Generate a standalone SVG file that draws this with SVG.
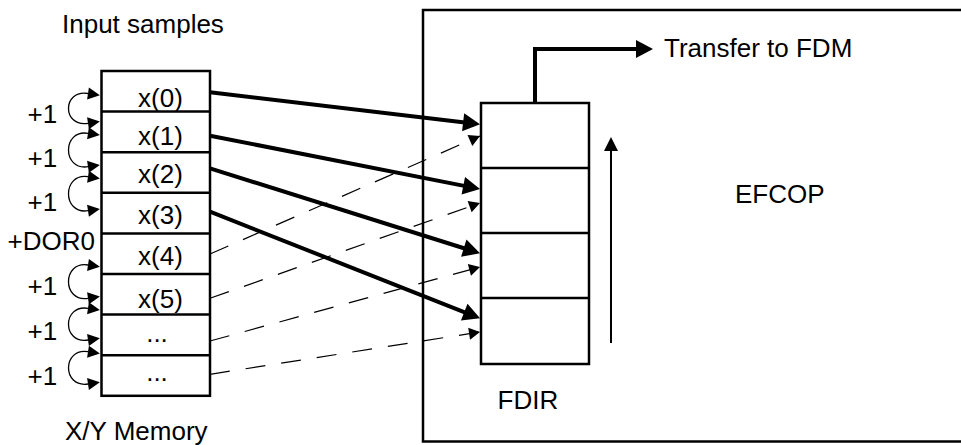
<svg xmlns="http://www.w3.org/2000/svg" width="961" height="445" viewBox="0 0 961 445">
<style>
text{font-family:"Liberation Sans",Arial,sans-serif;font-size:26px;fill:#000}
.mid{text-anchor:middle}
.box{fill:#fff;stroke:#000;stroke-width:2.5}
.div{stroke:#000;stroke-width:2.5}
.thick{fill:none;stroke:#000;stroke-width:4;marker-end:url(#big)}
.dash{fill:none;stroke:#000;stroke-width:1.2;stroke-dasharray:20 16;marker-end:url(#small)}
.curve{fill:none;stroke:#000;stroke-width:1.3;marker-start:url(#cur);marker-end:url(#cur)}
</style>
<defs>
<marker id="big" markerUnits="userSpaceOnUse" markerWidth="18" markerHeight="18" refX="6" refY="9" orient="auto" overflow="visible"><path d="M0,0 L17,9 L0,18 z" fill="#000"/></marker>
<marker id="small" markerUnits="userSpaceOnUse" markerWidth="12" markerHeight="12" refX="11" refY="6" orient="auto" overflow="visible"><path d="M0,0 L11,6 L0,12 z" fill="#000"/></marker>
<marker id="up" markerUnits="userSpaceOnUse" markerWidth="15" markerHeight="15" refX="4" refY="7" orient="auto" overflow="visible"><path d="M0,0 L14,7 L0,14 z" fill="#000"/></marker>
<marker id="cur" markerUnits="userSpaceOnUse" markerWidth="13" markerHeight="13" refX="0" refY="6" orient="auto-start-reverse" overflow="visible"><path d="M0,0 L12,6 L0,12 z" fill="#000"/></marker>
</defs>

<g id="efcop">
<rect class="box" x="423" y="10" width="545" height="431.5"/>
<text x="735" y="202.7">EFCOP</text>
</g>

<g id="memory">
<rect class="box" x="101.5" y="71" width="108.5" height="324.8"/>
<line class="div" x1="101.5" y1="111.6" x2="210" y2="111.6"/>
<line class="div" x1="101.5" y1="152.2" x2="210" y2="152.2"/>
<line class="div" x1="101.5" y1="192.8" x2="210" y2="192.8"/>
<line class="div" x1="101.5" y1="233.4" x2="210" y2="233.4"/>
<line class="div" x1="101.5" y1="274" x2="210" y2="274"/>
<line class="div" x1="101.5" y1="314.6" x2="210" y2="314.6"/>
<line class="div" x1="101.5" y1="355.2" x2="210" y2="355.2"/>
<text class="mid" x="160.5" y="107">x(0)</text>
<text class="mid" x="160.5" y="145">x(1)</text>
<text class="mid" x="160.5" y="183">x(2)</text>
<text class="mid" x="160.5" y="223.5">x(3)</text>
<text class="mid" x="160.5" y="265">x(4)</text>
<text class="mid" x="160.5" y="308">x(5)</text>
<text class="mid" x="157" y="342">...</text>
<text class="mid" x="157" y="381">...</text>
</g>

<g id="fdir">
<rect class="box" x="481" y="103" width="108" height="261"/>
<line class="div" x1="481" y1="168" x2="589" y2="168"/>
<line class="div" x1="481" y1="233" x2="589" y2="233"/>
<line class="div" x1="481" y1="298" x2="589" y2="298"/>
<text x="497.5" y="409">FDIR</text>
</g>

<g id="labels">
<text x="62" y="33">Input samples</text>
<text x="65" y="440">X/Y Memory</text>
<text x="664" y="56.7">Transfer to FDM</text>
<text x="27.5" y="123.3">+1</text>
<text x="27.5" y="167.3">+1</text>
<text x="27.5" y="210.7">+1</text>
<text x="7.5" y="250">+DOR0</text>
<text x="27.5" y="295">+1</text>
<text x="27.5" y="340">+1</text>
<text x="27.5" y="385">+1</text>
</g>

<g id="connectors">
<path class="curve" d="M88,93.5 C62,89.5 62,127.3 88,123.3"/>
<path class="curve" d="M88,133.3 C62,129.3 62,170.7 88,166.7"/>
<path class="curve" d="M88,176.7 C62,172.7 62,214.7 88,210.7"/>
<path class="curve" d="M88,265 C62,261 62,302.3 88,298.3"/>
<path class="curve" d="M88,308.3 C62,304.3 62,344 88,340"/>
<path class="curve" d="M88,351.7 C62,347.7 62,388 88,384"/>

<line class="thick" x1="210" y1="92.3" x2="469.1" y2="123"/>
<line class="thick" x1="210" y1="135.7" x2="469.2" y2="186.9"/>
<line class="thick" x1="210" y1="168.3" x2="469.5" y2="250"/>
<line class="thick" x1="210" y1="211.7" x2="469.8" y2="314.3"/>

<line class="dash" x1="210" y1="254" x2="480" y2="136"/>
<line class="dash" x1="210" y1="298.3" x2="480" y2="203"/>
<line class="dash" x1="210" y1="341" x2="480" y2="267"/>
<line class="dash" x1="210" y1="374.3" x2="480" y2="332"/>

<polyline class="thick" points="535,103 535,49 642,49"/>
<line x1="611" y1="343" x2="611" y2="147" stroke="#000" stroke-width="2" marker-end="url(#up)"/>
</g>
</svg>
